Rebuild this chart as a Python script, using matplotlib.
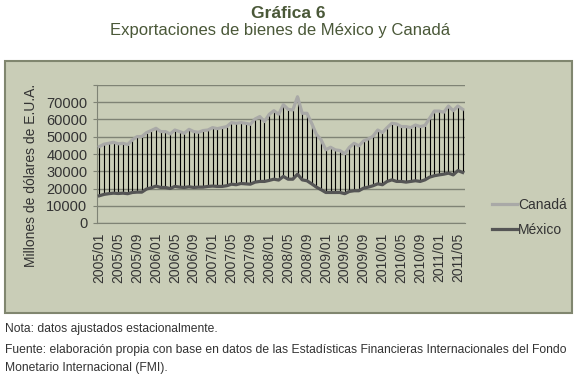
import pandas as pd
import matplotlib
matplotlib.use('Agg')
import matplotlib.pyplot as plt
from matplotlib.patches import Rectangle

plt.rcParams['font.family'] = ['Liberation Sans', 'DejaVu Sans']

# Exportaciones mensuales, millones de dólares (2005/01 - 2011/06)
meses = list(pd.date_range('2005-01-01', periods=78, freq='MS').strftime('%Y/%m'))

canada = [44300, 45700, 46200, 46800, 45900, 46200, 45500, 48200, 50100, 50100,
          52400, 53600, 54900, 53000, 53000, 51600, 53900, 53000, 52000, 54300,
          53000, 52600, 53600, 53900, 55300, 54700, 55300, 55900, 58200, 57800,
          58200, 57800, 57200, 60300, 61700, 58800, 63000, 65100, 63000, 68600,
          65900, 65500, 73200, 63600, 63600, 57800, 51400, 48200, 42400, 43900,
          42400, 42000, 40100, 43900, 46200, 44700, 47600, 48700, 50300, 53900,
          52400, 55300, 57800, 57400, 55900, 55900, 55300, 56800, 55900, 56500,
          60700, 64900, 64900, 64200, 67800, 65100, 67800, 65900]

mexico = [15800, 16600, 17000, 17300, 17100, 17300, 17000, 17700, 17900, 17900,
          19700, 20400, 21400, 20600, 20600, 20000, 21200, 20800, 20600, 21000,
          20600, 20800, 20800, 21200, 21400, 21200, 21200, 21600, 22500, 22200,
          22900, 22700, 22500, 23700, 24100, 24100, 24700, 25400, 24900, 27000,
          25400, 25400, 28300, 25000, 24500, 22700, 20800, 19300, 17700, 17700,
          17700, 17700, 17000, 18300, 18700, 18700, 20200, 20800, 21600, 22700,
          22200, 24100, 25000, 24100, 24100, 23700, 24100, 24500, 24100, 25000,
          26600, 27400, 27900, 28300, 28900, 27900, 30400, 29300]

y_ticks = [0, 10000, 20000, 30000, 40000, 50000, 60000, 70000]

bg = '#c9cdb7'
text_col = '#333333'
title_col = '#4a5838'

fig = plt.figure(figsize=(5.77, 3.76), dpi=100)
fig.patch.set_facecolor('white')

# caja de fondo
fig.patches.append(Rectangle((5 / 577, 1 - 313 / 376), 567 / 577, 252 / 376,
                             transform=fig.transFigure, facecolor=bg,
                             edgecolor='#80866f', linewidth=1.5, zorder=-10))

ax = fig.add_axes([97 / 577, 1 - 223 / 376, 368 / 577, 138 / 376])
ax.set_zorder(1)
ax.set_facecolor('none')

x = range(len(meses))
ax.vlines(x, mexico, canada, color='black', linewidth=0.8, zorder=2)
ax.plot(x, canada, color='#a9a9a7', linewidth=2.3, label='Canadá', zorder=3)
ax.plot(x, mexico, color='#555555', linewidth=2.3, label='México', zorder=4)

ax.set_xlim(-0.5, len(meses) - 0.5)
ax.set_ylim(0, 80000)
ax.set_yticks(y_ticks + [80000])
ax.set_yticklabels([str(v) for v in y_ticks] + [''])
ax.set_xticks(list(x)[::4])
ax.set_xticklabels(meses[::4], rotation=90)

ax.grid(axis='y', color='#7f8375', linewidth=1.0)
ax.set_axisbelow(True)
for s in ['top', 'right']:
    ax.spines[s].set_visible(False)
ax.spines['left'].set_color('#7f8375')
ax.spines['bottom'].set_color('#7f8375')

ax.tick_params(axis='y', length=3, color='#7f8375', labelsize=10.5,
               labelcolor=text_col, pad=4)
ax.tick_params(axis='x', length=0, labelsize=10, labelcolor=text_col, pad=7)

fig.text(31 / 577, 1 - 175 / 376, 'Millones de dólares de E.U.A.', rotation=90,
         ha='center', va='center', fontsize=10, color=text_col)

fig.legend(loc='center left', bbox_to_anchor=(485 / 577, 1 - 217.5 / 376),
           frameon=False, fontsize=10, borderpad=0, handlelength=1.8,
           handletextpad=0.1, labelspacing=0.8, labelcolor=text_col)

fig.text(0.5, 1 - 13 / 376, 'Gráfica 6', ha='center', va='center',
         fontsize=12.5, fontweight='bold', color=title_col)
fig.text(0.485, 1 - 31 / 376, 'Exportaciones de bienes de México y Canadá',
         ha='center', va='center', fontsize=12, color=title_col)

fig.text(5 / 577, 1 - 329 / 376, 'Nota: datos ajustados estacionalmente.',
         ha='left', va='center', fontsize=8.7, color=text_col)
fig.text(5 / 577, 1 - 350 / 376,
         'Fuente: elaboración propia con base en datos de las Estadísticas '
         'Financieras Internacionales del Fondo',
         ha='left', va='center', fontsize=8.7, color=text_col)
fig.text(5 / 577, 1 - 368 / 376, 'Monetario Internacional (FMI).',
         ha='left', va='center', fontsize=8.7, color=text_col)

fig.savefig('out.png', dpi=100, facecolor=fig.get_facecolor())
